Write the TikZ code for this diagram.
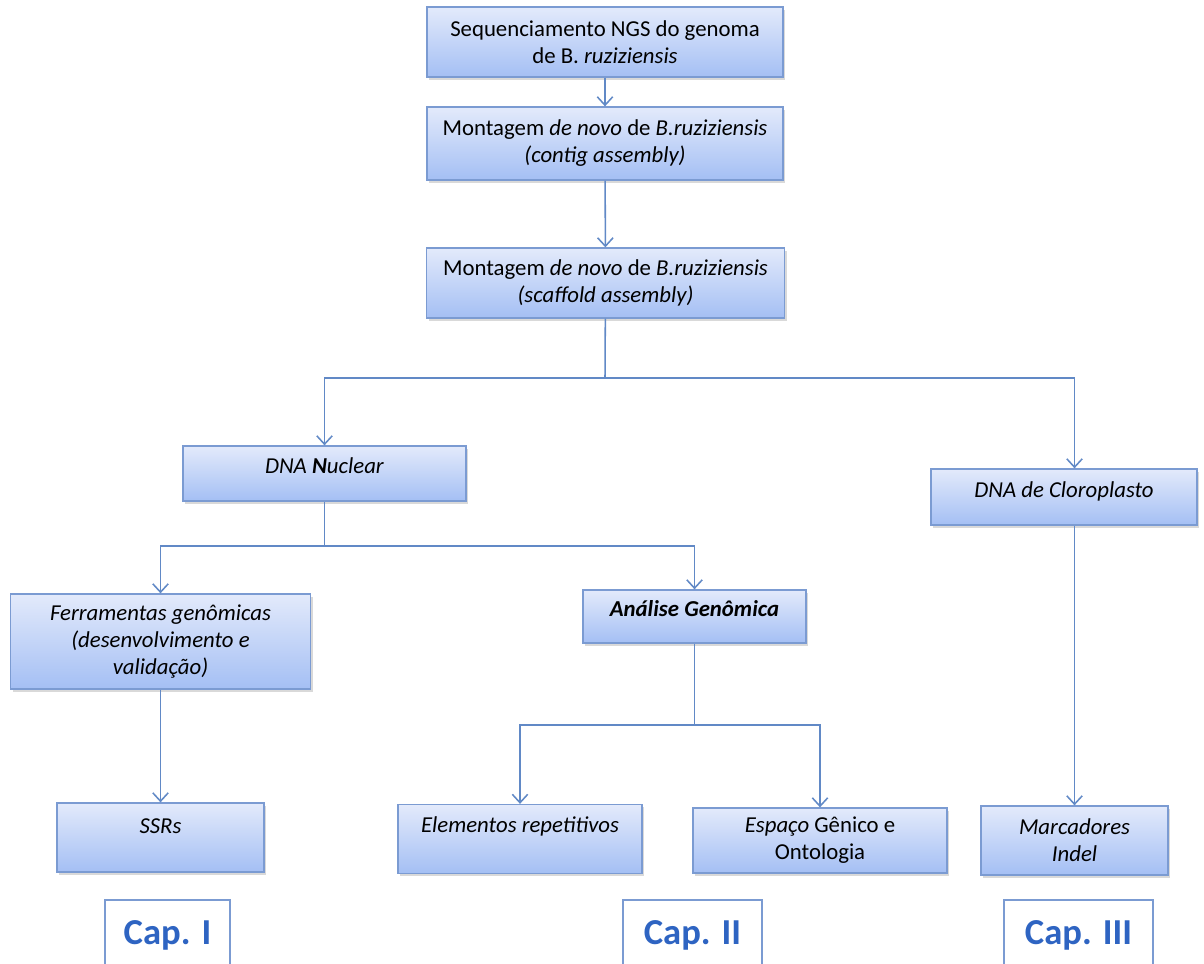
\documentclass[tikz,border=0pt]{standalone}
\usepackage{fontspec}
\setmainfont{Carlito}
\usetikzlibrary{arrows.meta, shadows}

\definecolor{boxtop}{HTML}{E3EAFB}
\definecolor{boxbot}{HTML}{A4BFF4}
\definecolor{boxline}{HTML}{7B9BD2}
\definecolor{linkcol}{HTML}{6189C6}
\definecolor{captext}{HTML}{2E64C2}

\begin{document}
\begin{tikzpicture}[
		x=0.025cm, y=-0.025cm,
		box/.style={rectangle, draw=boxline, line width=0.9pt, top color=boxtop, bottom color=boxbot,
			drop shadow={shadow xshift=1.5pt, shadow yshift=-2pt, opacity=0.3},
			align=center, inner sep=0pt, font=\fontsize{16.2}{19.2}\selectfont},
		lift/.style={text depth=#1},
		capbox/.style={rectangle, draw=boxline, line width=1pt, fill=white, inner sep=0pt,
			minimum height=1.75cm, text=captext, font=\fontsize{26}{30}\selectfont\bfseries},
		link/.style={draw=linkcol, line width=1.1pt},
		>={Straight Barb[length=6pt, width=11pt]}
		]
		\useasboundingbox (0,0) rectangle (1204,964);
		\clip (0,0) rectangle (1204,964);

		\node[box, minimum width=8.9cm, minimum height=1.75cm] (B1) at (605,42)
			{Sequenciamento NGS do genoma\\de B. \textit{ruziziensis}};
		\node[box, minimum width=8.9cm, minimum height=1.825cm] (B2) at (605,143.5)
			{Montagem \textit{de novo} de \textit{B.ruziziensis}\\\textit{(contig assembly)}};
		\node[box, minimum width=8.95cm, minimum height=1.75cm] (B3) at (605.5,283)
			{Montagem \textit{de novo} de \textit{B.ruziziensis}\\\textit{(scaffold assembly)}};

		\node[box, lift=11.5pt, minimum width=7.075cm, minimum height=1.375cm] (nuc) at (324.5,473.5)
			{\textit{DNA \textbf{N}uclear}};
		\node[box, lift=11pt, minimum width=6.65cm, minimum height=1.4cm] (clo) at (1064,497)
			{\textit{DNA de Cloroplasto}};

		\node[box, minimum width=7.5cm, minimum height=2.375cm] (fer) at (160.5,641.5)
			{\textit{Ferramentas genômicas}\\\textit{(desenvolvimento e}\\\textit{validação)}};
		\node[box, lift=11.5pt, minimum width=5.575cm, minimum height=1.325cm] (ana) at (694.5,616.5)
			{\textit{\textbf{Análise Genômica}}};

		\node[box, lift=15.5pt, minimum width=5.175cm, minimum height=1.725cm] (ssr) at (160.5,837.5)
			{\textit{SSRs}};
		\node[box, lift=21pt, minimum width=6.1cm, minimum height=1.725cm] (ele) at (520,839)
			{\textit{Elementos repetitivos}};
		\node[box, minimum width=6.35cm, minimum height=1.625cm] (esp) at (820,840.5)
			{\textit{Espaço} Gênico e\\Ontologia};
		\node[box, minimum width=4.675cm, minimum height=1.725cm] (mar) at (1074.5,840.5)
			{\textit{Marcadores}\\\textit{Indel}};

		\node[capbox, minimum width=3.125cm] (C1) at (167.5,935) {Cap. I};
		\node[capbox, minimum width=3.475cm] (C2) at (692.5,935) {Cap. II};
		\node[capbox, minimum width=3.725cm] (C3) at (1078.5,935) {Cap. III};

		\coordinate (J1) at (605,378);
		\coordinate (J2) at (324.5,546);
		\coordinate (J3) at (694.5,725);

		\draw[link, ->] (B1) -- (B2);
		\draw[link, ->] (B2) -- (B3);
		\draw[link] (B3) -- (J1);
		\draw[link, ->] (J1) -| (nuc);
		\draw[link, ->] (J1) -| (clo.north -| mar);
		\draw[link] (nuc) -- (J2);
		\draw[link, ->] (J2) -| (fer);
		\draw[link, ->] (J2) -| (ana);
		\draw[link, ->] (fer) -- (ssr);
		\draw[link] (ana) -- (J3);
		\draw[link, ->] (J3) -| (ele);
		\draw[link, ->] (J3) -| (esp);
		\draw[link, ->] (clo.south -| mar) -- (mar);

	\end{tikzpicture}
\end{document}
